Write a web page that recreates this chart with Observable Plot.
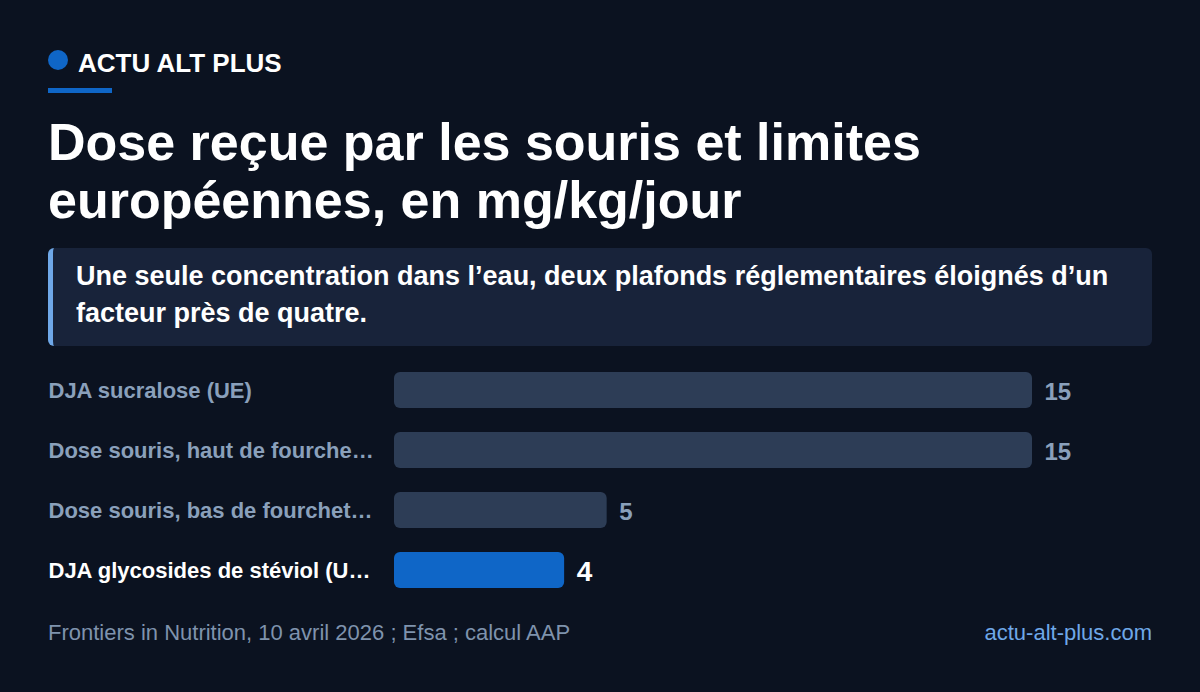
<!DOCTYPE html>
<html lang="fr">
<head>
<meta charset="utf-8">
<script src="https://cdn.jsdelivr.net/npm/d3@7"></script>
<script src="https://cdn.jsdelivr.net/npm/@observablehq/plot@0.6"></script>
<style>
  html, body { margin: 0; padding: 0; }
  body { width: 1200px; height: 692px; background: #0b1220; font-family: "Liberation Sans", Arial, sans-serif; position: relative; overflow: hidden; }
  .dot { position: absolute; left: 48px; top: 50px; width: 20px; height: 20px; border-radius: 50%; background: #0f66c7; }
  .brand-text { position: absolute; left: 78px; top: 48px; line-height: 30px; color: #ffffff; font-weight: bold; font-size: 26px; }
  .rule { position: absolute; left: 48px; top: 88px; width: 64px; height: 5px; background: #0f66c7; }
  h1 { position: absolute; left: 48px; top: 113px; margin: 0; width: 1104px; color: #ffffff; font-size: 52px; line-height: 58px; font-weight: bold; }
  .sub { position: absolute; left: 48px; top: 248px; width: 1104px; height: 98px; box-sizing: border-box; background: #18233a; border-left: 5px solid #6fa8e8; border-radius: 6px; padding: 10px 20px 0 23px; color: #ffffff; font-size: 27px; line-height: 37px; font-weight: bold; }
  #chart { position: absolute; left: 48px; top: 360px; }
  .foot { position: absolute; top: 620px; font-size: 22px; line-height: normal; }
  .src { left: 48px; color: #7f93ad; }
  .site { right: 48px; color: #6fa8e8; }
</style>
</head>
<body>
<div class="dot"></div><div class="brand-text">ACTU ALT PLUS</div>
<div class="rule"></div>
<h1>Dose reçue par les souris et limites<br>européennes, en mg/kg/jour</h1>
<div class="sub">Une seule concentration dans l’eau, deux plafonds réglementaires éloignés d’un facteur près de quatre.</div>
<div id="chart"></div>
<div class="foot src">Frontiers in Nutrition, 10 avril 2026 ; Efsa ; calcul AAP</div>
<div class="foot site">actu-alt-plus.com</div>
<script>
const labels = [
  "DJA sucralose (UE)",
  "Dose souris, haut de fourche…",
  "Dose souris, bas de fourchet…",
  "DJA glycosides de stéviol (U…"
];
const values = [15, 15, 5, 4];
const highlighted = [false, false, false, true];

const data = labels.map((label, i) => ({label, value: values[i], hl: highlighted[i]}));
const muted = data.filter(d => !d.hl);
const hot = data.filter(d => d.hl);

const chart = Plot.plot({
  width: 1104,
  height: 240,
  marginLeft: 346,
  marginRight: 120,
  marginTop: 0,
  marginBottom: 0,
  style: {background: "transparent", fontFamily: "'Liberation Sans', Arial, sans-serif", overflow: "visible"},
  x: {domain: [0, 15], axis: null},
  y: {domain: labels, axis: null, paddingInner: 0.4, paddingOuter: 0.2},
  color: {type: "identity"},
  marks: [
    Plot.barX(data, {x: "value", y: "label", fill: d => d.hl ? "#0f66c7" : "#2d3d56", rx: 6}),
    Plot.text(muted, {x: 0, y: "label", text: "label", textAnchor: "start", dx: -346, fill: "#8aa0bb", fontSize: 22, fontWeight: "bold"}),
    Plot.text(hot, {x: 0, y: "label", text: "label", textAnchor: "start", dx: -346, fill: "#ffffff", fontSize: 22, fontWeight: "bold"}),
    Plot.text(muted, {x: "value", y: "label", text: d => String(d.value), textAnchor: "start", dx: 12, dy: 2, fill: "#8aa0bb", fontSize: 24, fontWeight: "bold"}),
    Plot.text(hot, {x: "value", y: "label", text: d => String(d.value), textAnchor: "start", dx: 12, dy: 2, fill: "#ffffff", fontSize: 28, fontWeight: "bold"})
  ]
});
document.getElementById("chart").appendChild(chart);
</script>
</body>
</html>
